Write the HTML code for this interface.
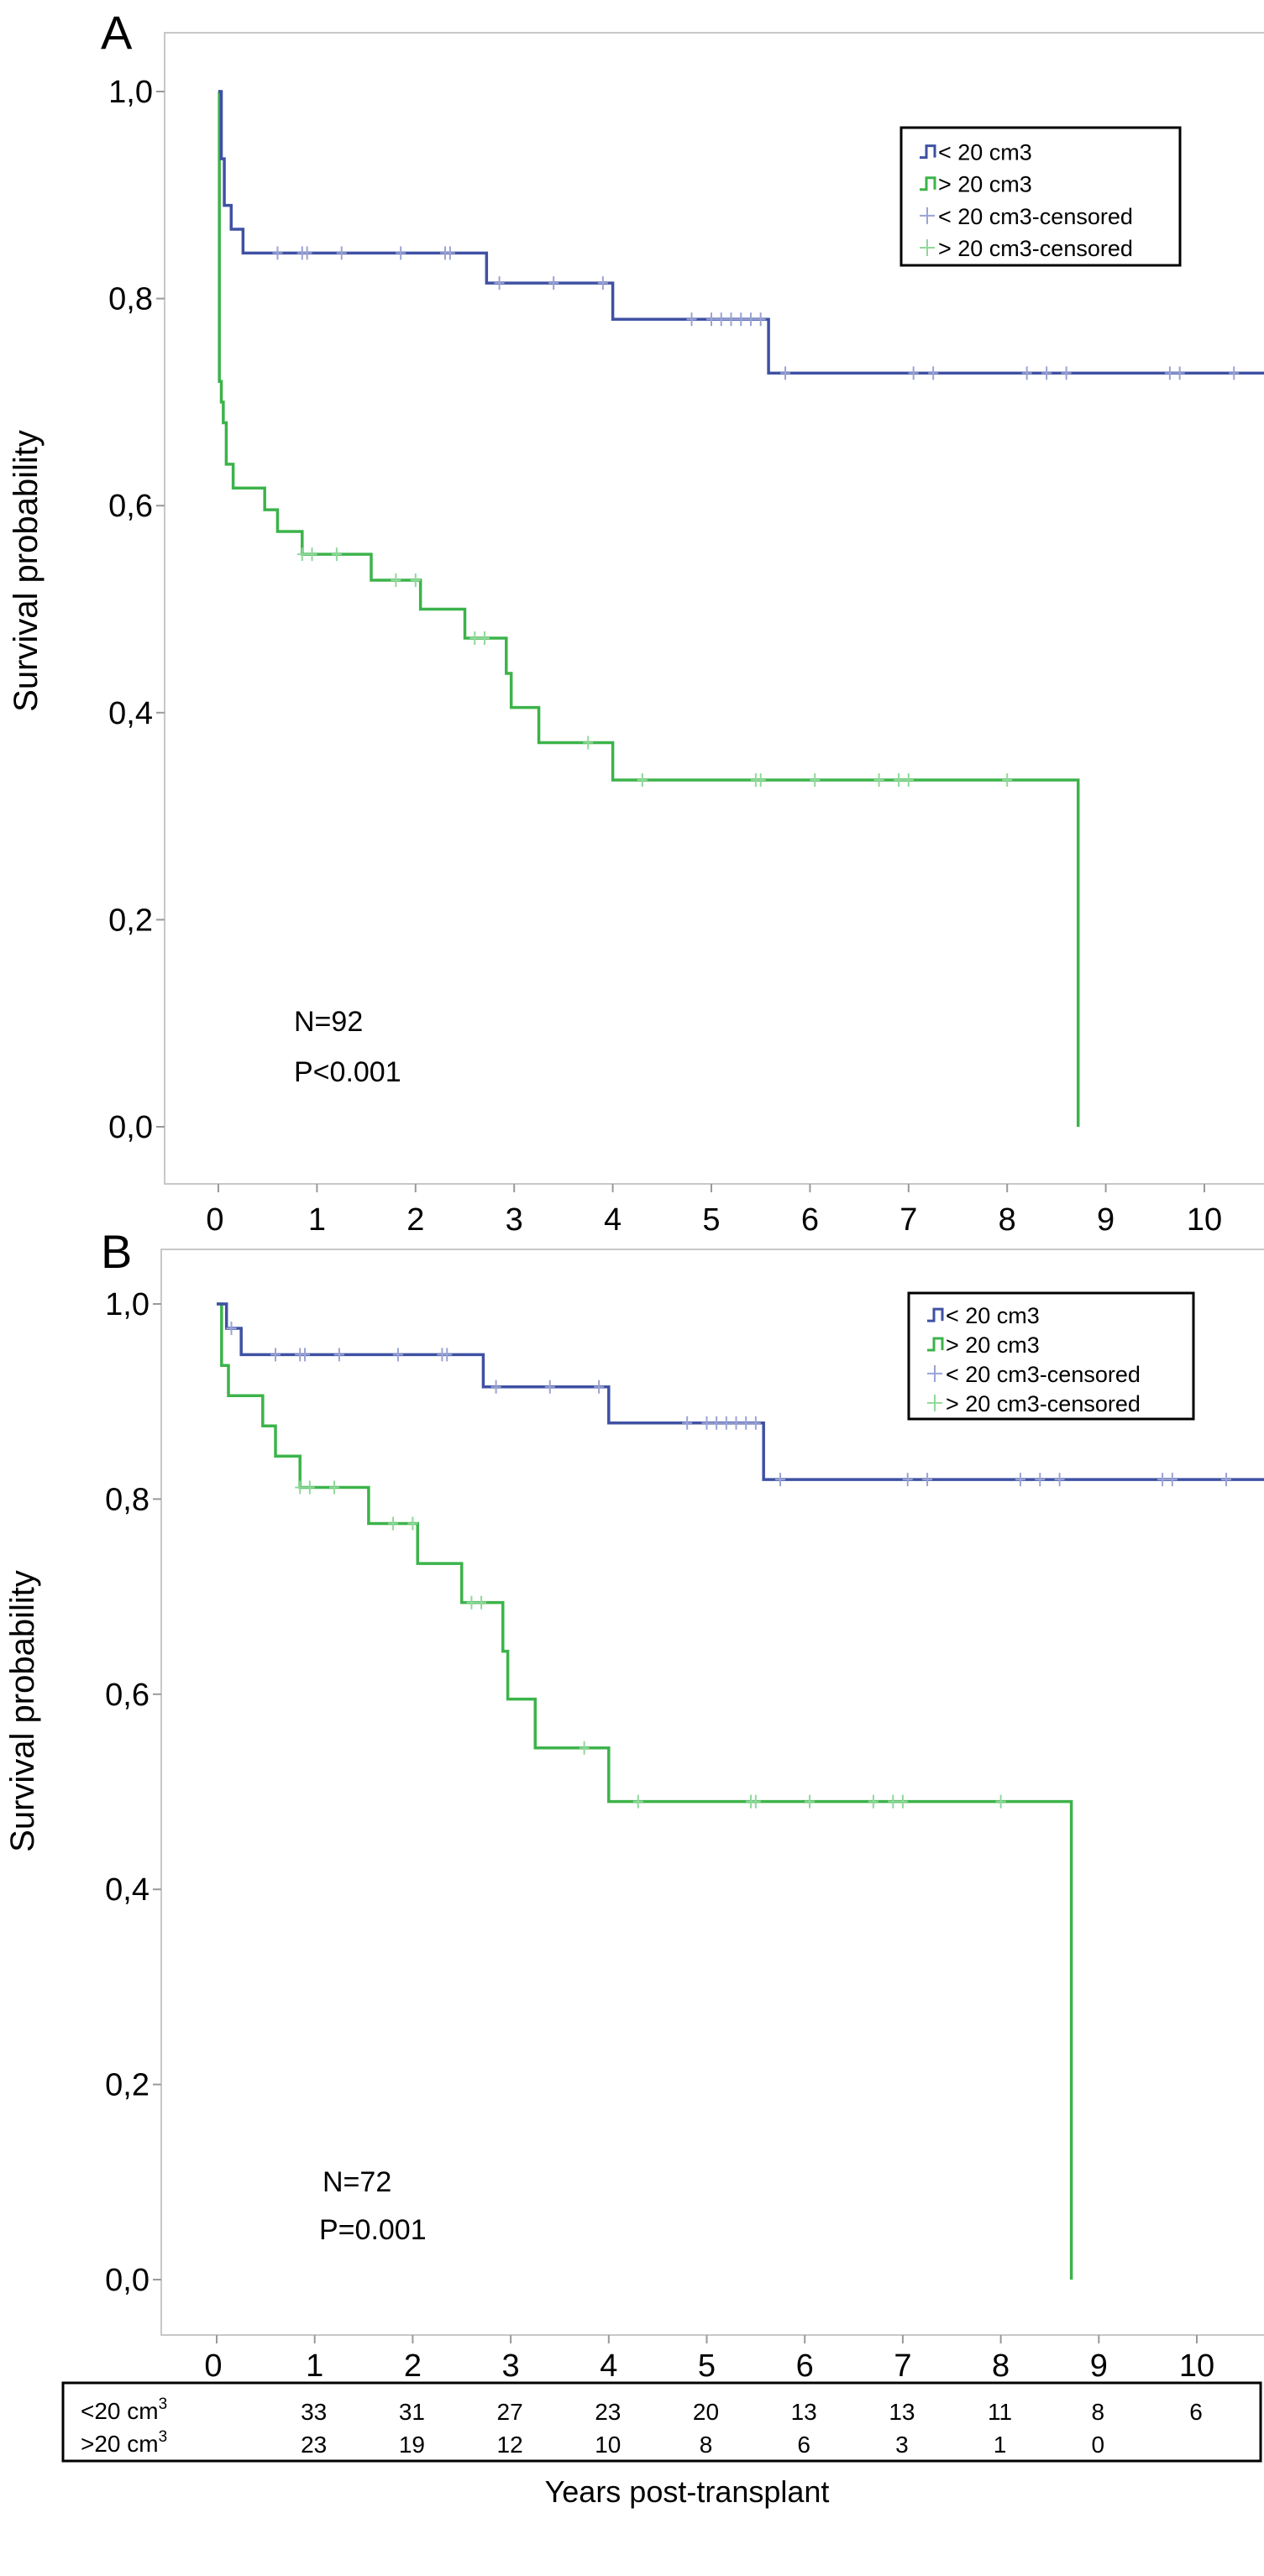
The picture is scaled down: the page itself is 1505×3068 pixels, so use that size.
<!DOCTYPE html>
<html><head><meta charset="utf-8"><style>
html,body{margin:0;padding:0;background:#fff;}
svg{display:block;font-family:"Liberation Sans",Arial,sans-serif;}
</style></head><body>
<svg id="chart" width="1505" height="3068" viewBox="0 0 1505 3068" xmlns="http://www.w3.org/2000/svg">
<text x="120" y="58" font-size="56">A</text>
<text x="120" y="1510" font-size="56">B</text>
<text x="44" y="680" font-size="40" transform="rotate(-90 44 680)" text-anchor="middle">Survival probability</text>
<text x="40" y="2038" font-size="40" transform="rotate(-90 40 2038)" text-anchor="middle">Survival probability</text>
<text x="350" y="1228" font-size="34">N=92</text>
<text x="350" y="1288" font-size="34">P&lt;0.001</text>
<text x="384" y="2610" font-size="34">N=72</text>
<text x="380" y="2667" font-size="34">P=0.001</text>
<g>
<rect x="75" y="2838" width="1426" height="93" fill="none" stroke="#000" stroke-width="3"/>
<text x="96" y="2881" font-size="28">&lt;20 cm<tspan dy="-12" font-size="19">3</tspan></text>
<text x="96" y="2920" font-size="28">&gt;20 cm<tspan dy="-12" font-size="19">3</tspan></text>
</g>
<text x="818" y="2980" font-size="36" text-anchor="middle">Years post-transplant</text>
</svg>
<script>
const yTicks=[0,0.2,0.4,0.6,0.8,1.0];
const yTickLabels=["0,0","0,2","0,4","0,6","0,8","1,0"];
const xTicks=[0,1,2,3,4,5,6,7,8,9,10];
const legendLabels=["< 20 cm3","> 20 cm3","< 20 cm3-censored","> 20 cm3-censored"];
// Panel A
const aBlueT=[0,0.03,0.06,0.13,0.25,2.72,4.0,5.58];
const aBlueS=[1.0,0.935,0.89,0.867,0.844,0.815,0.78,0.728];
const aGreenT=[0,0.01,0.03,0.05,0.08,0.1,0.15,0.47,0.6,0.85,1.55,2.05,2.5,2.92,2.97,3.25,4.0,8.72];
const aGreenS=[1.0,0.72,0.70,0.68,0.64,0.64,0.617,0.596,0.575,0.553,0.528,0.50,0.472,0.438,0.405,0.371,0.335,0];
const aBlueCensT=[0.6,0.85,0.9,1.25,1.85,2.3,2.35,2.85,3.4,3.9,4.8,5.0,5.1,5.2,5.3,5.4,5.5,5.75,7.05,7.25,8.2,8.4,8.6,9.65,9.75,10.3];
const aGreenCensT=[0.85,0.95,1.2,1.8,2.0,2.6,2.7,3.75,4.3,5.45,5.5,6.05,6.7,6.9,7.0,8.0];
// Panel B
const bBlueT=[0,0.1,0.25,2.72,4.0,5.58];
const bBlueS=[1.0,0.975,0.948,0.915,0.878,0.82];
const bGreenT=[0,0.05,0.12,0.47,0.6,0.85,1.55,2.05,2.5,2.92,2.97,3.25,4.0,8.72];
const bGreenS=[1.0,0.937,0.906,0.875,0.844,0.812,0.775,0.734,0.694,0.644,0.595,0.545,0.49,0];
const bBlueCensT=[0.15,0.6,0.85,0.9,1.25,1.85,2.3,2.35,2.85,3.4,3.9,4.8,5.0,5.1,5.2,5.3,5.4,5.5,5.75,7.05,7.25,8.2,8.4,8.6,9.65,9.75,10.3];
const bGreenCensT=[0.85,0.95,1.2,1.8,2.0,2.6,2.7,3.75,4.3,5.45,5.5,6.05,6.7,6.9,7.0,8.0];
// Risk table
const riskSmall=[33,31,27,23,20,13,13,11,8,6];
const riskLarge=[23,19,12,10,8,6,3,1,0];

const NS="http://www.w3.org/2000/svg";
const svg=document.getElementById('chart');
const BLUE="#3f51a3",GREEN="#3cb34a",LBLUE="#9aa3d6",LGREEN="#8fd99a";
function mk(tag,attrs,parent){const e=document.createElementNS(NS,tag);for(const k in attrs)e.setAttribute(k,attrs[k]);(parent||svg).appendChild(e);return e;}

function panel(p){
  const xs=t=>p.x0+t*(p.x10-p.x0)/10;
  const ys=s=>p.y0+s*(p.y1-p.y0);
  const g=mk('g',{});
  
  
  const fr=mk('rect',{x:p.fl,y:p.ft,width:1520-p.fl,height:p.fb-p.ft,fill:'none',stroke:'#c8c8c8','stroke-width':2},g);
  
  
  yTicks.forEach((v,i)=>{
    const y=ys(v);
    mk('line',{x1:p.fl-10,x2:p.fl,y1:y,y2:y,stroke:'#999','stroke-width':2},g);
    const t=mk('text',{x:p.fl-14,y:y+13,'font-size':38,'text-anchor':'end'},g);
    t.textContent=yTickLabels[i];
    
    
  });
  xTicks.forEach(v=>{
    const x=xs(v);
    mk('line',{x1:x,x2:x,y1:p.fb,y2:p.fb+10,stroke:'#999','stroke-width':2},g);
    const t=mk('text',{x:x-(v===0?4:0),y:p.xl,'font-size':38,'text-anchor':'middle'},g);
    t.textContent=v;
    
    
  });
  const clipId='clip'+p.name;
  const cp=mk('clipPath',{id:clipId},g);
  mk('rect',{x:p.fl,y:p.ft,width:1505-p.fl,height:p.fb-p.ft},cp);
  const pg=mk('g',{'clip-path':'url(#'+clipId+')'},g);
  function step(T,S,color,name,extend){
    let d='M'+xs(T[0])+','+ys(S[0]);
    for(let i=1;i<T.length;i++){d+=' H'+xs(T[i])+' V'+ys(S[i]);}
    if(extend)d+=' H1520';
    const path=mk('path',{d:d,fill:'none',stroke:color,'stroke-width':3.5},pg);
    
    
  }
  function sAt(T,S,t){let s=S[0];for(let i=0;i<T.length;i++){if(T[i]<=t)s=S[i];}return s;}
  function cens(C,T,S,color,name){
    C.forEach(t=>{
      const x=xs(t),y=ys(sAt(T,S,t));
      const c=mk('path',{d:`M${x},${y-8} V${y+8} M${x-6},${y} H${x+6}`,stroke:color,'stroke-width':2},pg);
      
      
    });
  }
  step(p.gT,p.gS,GREEN,'survival-line-large',false);
  step(p.bT,p.bS,BLUE,'survival-line-small',true);
  cens(p.bC,p.bT,p.bS,LBLUE,'censor-mark-small');
  cens(p.gC,p.gT,p.gS,LGREEN,'censor-mark-large');
  // legend
  const L=p.leg;
  const lg=mk('g',{},g);
  
  
  mk('rect',{x:L.x,y:L.y,width:L.w,height:L.h,fill:'#fff',stroke:'#000','stroke-width':3},lg);
  const rowH=L.h/4.3;
  legendLabels.forEach((lab,i)=>{
    const cy=L.y+rowH*(i+0.75);
    const ix=L.x+22;
    const col=[BLUE,GREEN,LBLUE,LGREEN][i];
    if(i<2){mk('path',{d:`M${ix},${cy+7} H${ix+8} V${cy-7} H${ix+18} V${cy+7}`,fill:'none',stroke:col,'stroke-width':3},lg);}
    else{mk('path',{d:`M${ix+9},${cy-10} V${cy+10} M${ix},${cy} H${ix+18}`,stroke:col,'stroke-width':2},lg);}
    const t=mk('text',{x:ix+22,y:cy+10,'font-size':27},lg);
    t.textContent=lab;
    
    
  });
  return xs;
}
panel({name:'panel-a',fl:196,ft:39,fb:1410,x0:260,x10:1434,y0:1342,y1:109,xl:1465,
  bT:aBlueT,bS:aBlueS,gT:aGreenT,gS:aGreenS,bC:aBlueCensT,gC:aGreenCensT,
  leg:{x:1073,y:152,w:332,h:164}});
const xsB=panel({name:'panel-b',fl:192,ft:1488,fb:2781,x0:258,x10:1425,y0:2715,y1:1553,xl:2830,
  bT:bBlueT,bS:bBlueS,gT:bGreenT,gS:bGreenS,bC:bBlueCensT,gC:bGreenCensT,
  leg:{x:1082,y:1540,w:339,h:150}});
riskSmall.forEach((v,i)=>{
  const t=mk('text',{x:xsB(i+1)-1,y:2882,'font-size':28,'text-anchor':'middle'});
  t.textContent=v;
  
  
});
riskLarge.forEach((v,i)=>{
  const t=mk('text',{x:xsB(i+1)-1,y:2921,'font-size':28,'text-anchor':'middle'});
  t.textContent=v;
  
  
});
</script>
</body></html>
